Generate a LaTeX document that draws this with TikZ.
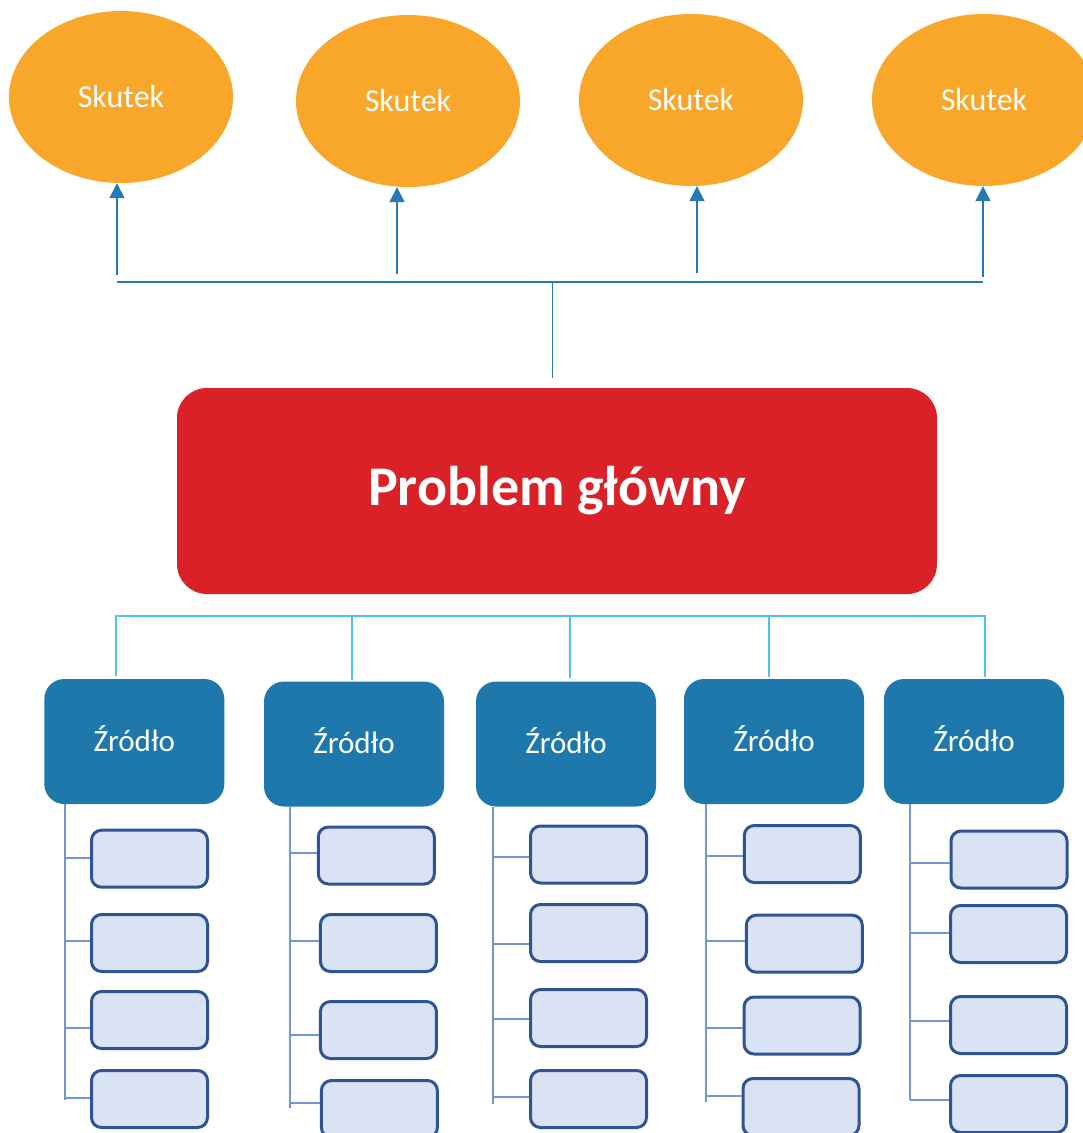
\documentclass[tikz,border=0pt]{standalone}
\usepackage{fontspec}
\setmainfont{Carlito}
\usetikzlibrary{shapes.geometric,arrows.meta,calc}
\definecolor{effectfill}{HTML}{F9A72B}
\definecolor{arrowblue}{HTML}{2479B6}
\definecolor{problemred}{HTML}{DA2128}
\definecolor{sourceblue}{HTML}{1F78AB}
\definecolor{buscyan}{HTML}{4EC3F0}
\definecolor{branchblue}{HTML}{7196D7}
\definecolor{itemfill}{HTML}{DAE3F3}
\definecolor{itemdraw}{HTML}{2F5496}
\begin{document}
\begin{tikzpicture}[x=1pt,y=-1pt,
  effect/.style={ellipse, fill=effectfill, minimum width=224pt, minimum height=172pt,
    inner sep=0pt, text=white, font=\fontsize{32}{36}\selectfont},
  problem/.style={rectangle, rounded corners=30pt, fill=problemred, minimum width=760pt,
    minimum height=206pt, text=white, font=\fontsize{56}{60}\selectfont\bfseries},
  source/.style={rectangle, rounded corners=20pt, fill=sourceblue, minimum width=180pt,
    minimum height=125pt, text=white, text depth=6pt, font=\fontsize{31}{36}\selectfont},
  item/.style={rectangle, rounded corners=10pt, fill=itemfill, draw=itemdraw,
    line width=3pt, minimum width=116pt, minimum height=57pt},
  up/.style={arrowblue, line width=1.5pt, -{Triangle[width=15pt,length=15pt]}},
  bus/.style={arrowblue, line width=1.5pt},
  srcbus/.style={buscyan, line width=2pt},
  branch/.style={branchblue, line width=2pt},
]
\clip (0,0) rectangle (1083,1133);
\fill[white] (0,0) rectangle (1083,1133);

% effects
\node[effect] (e1) at (121,97) {Skutek};
\node[effect] (e2) at (408,101) {Skutek};
\node[effect] (e3) at (691,100) {Skutek};
\node[effect] (e4) at (984,100) {Skutek};

% arrows from the effect bus
\coordinate (a1) at (117,275);
\coordinate (a2) at (397,274);
\coordinate (a3) at (697,273);
\coordinate (a4) at (983,277);
\draw[up] (a1) -- (a1 |- e1.south);
\draw[up] (a2) -- (a2 |- e2.south);
\draw[up] (a3) -- (a3 |- e3.south);
\draw[up] (a4) -- (a4 |- e4.south);

\coordinate (tl) at (117,282);
\coordinate (tr) at (983,282);
\coordinate (ps) at (552.7,378);
\draw[bus] (tl) -- (tr);
\draw[bus] (ps |- tl) -- (ps);

% main problem
\node[problem] (p) at (557,491) {Problem główny};

% sources
\node[source] (src1) at (134.3,741.5) {Źródło};
\node[source] (src2) at (354,744) {Źródło};
\node[source] (src3) at (566,744) {Źródło};
\node[source] (src4) at (774,741.5) {Źródło};
\node[source] (src5) at (974,741.5) {Źródło};

\coordinate (d1) at (115.5,615.7);
\coordinate (d2) at (351.6,615.7);
\coordinate (d3) at (570.3,615.7);
\coordinate (d4) at (768.5,615.7);
\coordinate (d5) at (984.5,615.7);
\draw[srcbus, shorten <=3pt, shorten >=2pt] (d1 |- src1.north) -- (d1) -- (d5) -- (d5 |- src5.north);
\draw[srcbus, shorten >=1pt] (d2) -- (d2 |- src2.north);
\draw[srcbus, shorten >=3pt] (d3) -- (d3 |- src3.north);
\draw[srcbus, shorten >=2pt] (d4) -- (d4 |- src4.north);

% detail boxes
\node[item] (c1-1) at (149.5,858.7) {};
\node[item] (c1-2) at (149.5,943) {};
\node[item] (c1-3) at (149.5,1020) {};
\node[item] (c1-4) at (149.5,1099) {};

\node[item] (c2-1) at (376.3,855.5) {};
\node[item] (c2-2) at (378.4,943) {};
\node[item] (c2-3) at (378.4,1030) {};
\node[item] (c2-4) at (379.4,1109) {};

\node[item] (c3-1) at (588.5,854.5) {};
\node[item] (c3-2) at (588.5,933) {};
\node[item] (c3-3) at (588.5,1018) {};
\node[item] (c3-4) at (588.5,1099) {};

\node[item] (c4-1) at (802.3,854) {};
\node[item] (c4-2) at (804.3,943.7) {};
\node[item] (c4-3) at (802,1025.5) {};
\node[item] (c4-4) at (801,1107) {};

\node[item] (c5-1) at (1009,859.5) {};
\node[item] (c5-2) at (1008.5,934) {};
\node[item] (c5-3) at (1008.5,1025) {};
\node[item] (c5-4) at (1008.5,1104) {};

% branch lines under each source
\coordinate (v1) at (65.2,1100);
\coordinate (v2) at (289.5,1108);
\coordinate (v3) at (493,1104);
\coordinate (v4) at (706.3,1102);
\coordinate (v5) at (909.5,1100);
\foreach \c in {1,...,5}
  \draw[branch] (src\c.south -| v\c) -- (v\c);

\foreach \c/\i/\s in {1/1/1, 1/2/2, 1/3/-8, 1/4/0.7,
                     2/1/2.8, 2/2/2, 2/3/-4.7, 2/4/6,
                     3/1/-2.5, 3/2/-10.7, 3/3/-1, 3/4/2.3,
                     4/1/-1.7, 4/2/2.7, 4/3/-2.5, 4/4/11.3,
                     5/1/-3.2, 5/2/1.3, 5/3/4.3, 5/4/4.3} {
  \path ($(c\c-\i.west)+(0pt,\s pt)$) coordinate (k\c-\i);
  \draw[branch] (k\c-\i -| v\c) -- (k\c-\i);
}
\end{tikzpicture}
\end{document}
